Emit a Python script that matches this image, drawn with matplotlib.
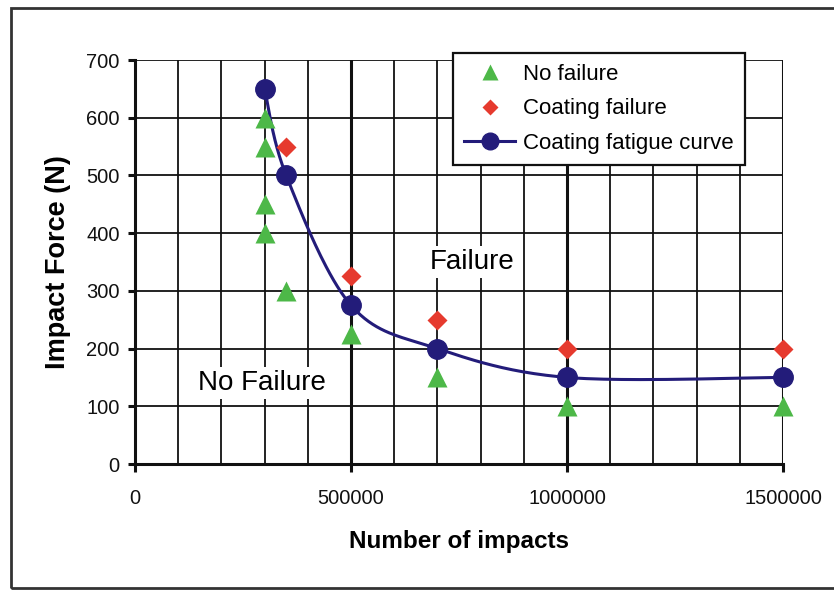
import numpy as np
import matplotlib
matplotlib.use("Agg")
import matplotlib.pyplot as plt
from matplotlib.patches import Rectangle
from matplotlib.lines import Line2D

plt.rcParams['font.family'] = ['Liberation Sans', 'DejaVu Sans']

# Data
nofail_x = [300000, 300000, 300000, 300000, 350000, 500000, 700000, 1000000, 1500000]
nofail_y = [600, 550, 450, 400, 300, 225, 150, 100, 100]
coatfail_x = [350000, 500000, 700000, 1000000, 1500000]
coatfail_y = [550, 325, 250, 200, 200]
curve_x = [300000, 350000, 500000, 700000, 1000000, 1500000]
curve_y = [650, 500, 275, 200, 150, 150]
x_ticks = [0, 500000, 1000000, 1500000]
y_ticks = [0, 100, 200, 300, 400, 500, 600, 700]

GREEN = '#4db848'
RED = '#e63a2e'
NAVY = '#231c7a'


def smooth(xs, ys, n=40):
    # Excel-like smoothed line: Bezier segments with Catmull-Rom control points
    P = np.column_stack([xs, ys]).astype(float)
    Pp = np.vstack([P[0], P, P[-1]])
    out = []
    for i in range(1, len(Pp) - 2):
        p0, p1, p2, p3 = Pp[i - 1], Pp[i], Pp[i + 1], Pp[i + 2]
        c1 = p1 + (p2 - p0) / 6.0
        c2 = p2 - (p3 - p1) / 6.0
        t = np.linspace(0, 1, n)[:, None]
        seg = ((1 - t) ** 3) * p1 + 3 * ((1 - t) ** 2) * t * c1 + 3 * (1 - t) * t ** 2 * c2 + t ** 3 * p2
        out.append(seg if i == 1 else seg[1:])
    s = np.vstack(out)
    return s[:, 0], s[:, 1]


fig = plt.figure(figsize=(8.34, 5.9), dpi=100)
ax = fig.add_axes([135 / 834, 1 - 464 / 590, (783 - 135) / 834, (464 - 60) / 590])

ax.set_xlim(0, 1500000)
ax.set_ylim(0, 700)

# grid
for xv in range(100000, 1500001, 100000):
    lw = 2.2 if xv % 500000 == 0 else 1.3
    ax.axvline(xv, color='#111111', lw=lw, zorder=1)
for yv in y_ticks[1:]:
    ax.axhline(yv, color='#111111', lw=1.3, zorder=1)

for s in ['top', 'right']:
    ax.spines[s].set_visible(False)
for s in ['left', 'bottom']:
    ax.spines[s].set_linewidth(2.2)
    ax.spines[s].set_color('#111111')

ax.set_xticks(x_ticks)
ax.set_xticklabels([str(v) for v in x_ticks])
ax.set_yticks(y_ticks)
ax.tick_params(axis='x', length=6, width=2.2, pad=12, labelsize=14.5, colors='#111111')
ax.tick_params(axis='y', length=5, width=2.2, pad=6, labelsize=14.5, colors='#111111')

ax.set_xlabel('Number of impacts', fontsize=17.5, fontweight='bold', labelpad=16)
ax.set_ylabel('Impact Force (N)', fontsize=19.5, fontweight='bold', labelpad=11)

sx, sy = smooth(curve_x, curve_y)
ax.plot(sx, sy, color=NAVY, lw=2.2, zorder=3, clip_on=False)
ax.plot(curve_x, curve_y, 'o', color=NAVY, ms=14, zorder=4, clip_on=False)
ax.plot(nofail_x, nofail_y, '^', color=GREEN, ms=14, mec='none', zorder=5, clip_on=False)
ax.plot(coatfail_x, coatfail_y, 'D', color=RED, ms=10, mec='none', zorder=5, clip_on=False)

ax.text(780000, 350, 'Failure', fontsize=20, ha='center', va='center', zorder=2,
        bbox=dict(facecolor='white', edgecolor='none', pad=2))
ax.text(294000, 140, 'No Failure', fontsize=20, ha='center', va='center', zorder=2,
        bbox=dict(facecolor='white', edgecolor='none', pad=2))

handles = [
    Line2D([], [], ls='none', marker='^', color=GREEN, mec='none', ms=12),
    Line2D([], [], ls='none', marker='D', color=RED, mec='none', ms=8.5),
    Line2D([], [], color=NAVY, lw=2.2, marker='o', ms=12),
]
labels = ['No failure', 'Coating failure', 'Coating fatigue curve']
leg = ax.legend(handles, labels, loc='upper left',
                bbox_to_anchor=(453 / 834, 1 - 53 / 590), bbox_transform=fig.transFigure,
                fontsize=16, frameon=True, fancybox=False, framealpha=1,
                edgecolor='#111111', handlelength=2.3, handletextpad=0.35,
                borderpad=0.5, labelspacing=0.6, borderaxespad=0)
leg.get_frame().set_linewidth(1.6)
leg.set_zorder(10)

fig.patches.append(Rectangle((10.5 / 834, 1 - 588 / 590), 1.0, (588 - 8) / 590,
                             transform=fig.transFigure, fill=False,
                             edgecolor='#333333', lw=2.0))

fig.savefig('out.png', dpi=100)
